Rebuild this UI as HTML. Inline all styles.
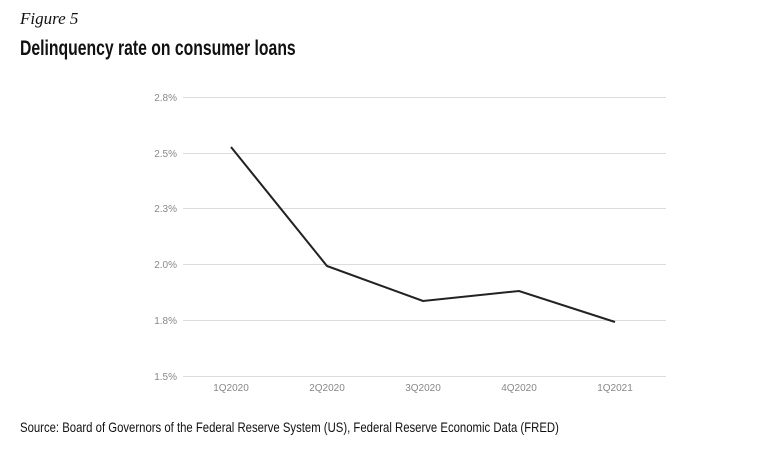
<!DOCTYPE html>
<html><head><style>
body{margin:0;width:780px;height:455px;background:#fff;overflow:hidden;position:relative}
.fig{position:absolute;left:20px;top:9px;font:italic 17px "Liberation Serif",serif;color:#111}
.title{position:absolute;left:20px;top:37px;font:bold 21px "Liberation Sans",sans-serif;color:#111;white-space:nowrap;transform:scaleX(0.75);transform-origin:0 0}
.src{position:absolute;left:20px;top:419px;font:14px "Liberation Sans",sans-serif;color:#111;white-space:nowrap;transform:scaleX(0.81);transform-origin:0 0}
</style></head><body>
<div class="fig">Figure 5</div>
<div class="title">Delinquency rate on consumer loans</div>
<svg width="780" height="455" style="position:absolute;left:0;top:0">
<g stroke="#dcdcdc" stroke-width="1">
<line x1="183" x2="666" y1="97.5" y2="97.5"/>
<line x1="183" x2="666" y1="153.5" y2="153.5"/>
<line x1="183" x2="666" y1="208.5" y2="208.5"/>
<line x1="183" x2="666" y1="264.5" y2="264.5"/>
<line x1="183" x2="666" y1="320.5" y2="320.5"/>
<line x1="183" x2="666" y1="376.5" y2="376.5"/>
</g>
<g font-family="Liberation Sans,sans-serif" font-size="10" fill="#888" text-anchor="end">
<text x="177" y="101">2.8%</text>
<text x="177" y="157">2.5%</text>
<text x="177" y="212">2.3%</text>
<text x="177" y="268">2.0%</text>
<text x="177" y="324">1.8%</text>
<text x="177" y="380">1.5%</text>
</g>
<g font-family="Liberation Sans,sans-serif" font-size="10" fill="#888" text-anchor="middle">
<text x="231" y="391">1Q2020</text>
<text x="327" y="391">2Q2020</text>
<text x="423" y="391">3Q2020</text>
<text x="519" y="391">4Q2020</text>
<text x="615" y="391">1Q2021</text>
</g>
<polyline points="231,147 327,266 423,301 519,291 615,322" fill="none" stroke="#222" stroke-width="2"/>
</svg>
<div class="src">Source: Board of Governors of the Federal Reserve System (US), Federal Reserve Economic Data (FRED)</div>
</body></html>
